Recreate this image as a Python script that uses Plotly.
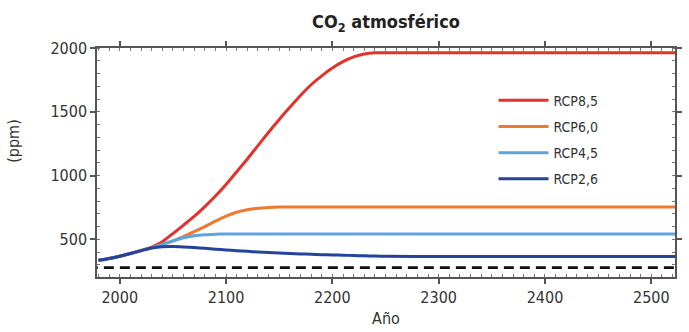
import plotly.graph_objects as go

# ---- data ----
years = [1980, 1990, 2000, 2010, 2020, 2030, 2040, 2050, 2060, 2070, 2080, 2090,
         2100, 2110, 2120, 2130, 2140, 2150, 2160, 2170, 2180, 2190, 2200, 2210,
         2220, 2230, 2240, 2250, 2300, 2400, 2500, 2530]

rcp85 = [336, 350, 368, 389, 413, 440, 482, 545, 612, 680, 757, 840,
         930, 1030, 1130, 1235, 1340, 1440, 1535, 1628, 1712, 1782, 1843, 1893,
         1930, 1953, 1962, 1962, 1962, 1962, 1962, 1962]

rcp60 = [336, 350, 368, 389, 410, 433, 460, 488, 522, 560, 600, 643,
         683, 713, 732, 744, 750, 753, 753, 753, 753, 753, 753, 753,
         753, 753, 753, 753, 753, 753, 753, 753]

rcp45 = [336, 350, 368, 389, 410, 433, 460, 487, 512, 528, 536, 540,
         542, 543, 543, 543, 543, 543, 543, 543, 543, 543, 543, 543,
         543, 543, 543, 543, 543, 543, 543, 543]

rcp26 = [336, 350, 368, 389, 412, 432, 443, 444, 441, 436, 430, 423,
         417, 411, 406, 401, 397, 393, 389, 386, 383, 380, 378, 376,
         373, 371, 369, 368, 365, 365, 365, 365]

preindustrial = 278

series_names = ["RCP8,5", "RCP6,0", "RCP4,5", "RCP2,6"]
series_values = [rcp85, rcp60, rcp45, rcp26]
series_colors = ["#e3322b", "#ee7a30", "#5fa4dc", "#25439a"]

x_ticks = [2000, 2100, 2200, 2300, 2400, 2500]
y_ticks = [500, 1000, 1500, 2000]

FONT = "DejaVu Sans Condensed, Liberation Sans Narrow, DejaVu Sans, sans-serif"
AXIS_COLOR = "#555555"
TEXT_COLOR = "#333333"

fig = go.Figure()

# pre-industrial reference (dashed)
fig.add_trace(go.Scatter(
    x=[years[0] - 10, years[-1]], y=[preindustrial, preindustrial],
    mode="lines", line=dict(color="#111111", width=2.8, dash="10px,6px"),
    showlegend=False, hoverinfo="skip"))

for name, vals, col in zip(series_names, series_values, series_colors):
    fig.add_trace(go.Scatter(
        x=years, y=vals, name=name, mode="lines",
        legendgroup=name,
        line=dict(color=col, width=3, shape="spline", smoothing=0.6)))

fig.update_layout(
    width=689, height=332,
    margin=dict(l=97, r=7, t=48, b=52),
    paper_bgcolor="white", plot_bgcolor="white",
    font=dict(family=FONT, color=TEXT_COLOR, size=16),
    title=dict(
        text="<b>CO<sub>2</sub> atmosférico</b>",
        x=0.5, xref="paper", xanchor="center",
        y=1 - 22 / 332, yref="container", yanchor="middle",
        font=dict(family=FONT, size=18, color="#222222")),
    showlegend=True,
    legend=dict(
        x=0.686, y=0.84, xanchor="left", yanchor="top",
        bgcolor="rgba(0,0,0,0)", borderwidth=0,
        itemwidth=50,
        font=dict(family=FONT, size=14, color=TEXT_COLOR),
        traceorder="grouped", tracegroupgap=5),
    annotations=[dict(
        text="(ppm)", textangle=-90,
        x=(13 - 97) / 585, y=1 - (142 - 48) / 232,
        xref="paper", yref="paper", xanchor="center", yanchor="middle",
        showarrow=False, font=dict(family=FONT, size=16, color=TEXT_COLOR))],
)

fig.update_xaxes(
    range=[1978.6, 2522.3],
    tickvals=x_ticks, ticks="outside", ticklen=5, tickwidth=1.5, tickcolor=AXIS_COLOR,
    showline=True, linecolor=AXIS_COLOR, linewidth=1.5, mirror="allticks",
    showgrid=False, zeroline=False,
    tickfont=dict(family=FONT, size=16, color=TEXT_COLOR),
    minor=dict(dtick=10, tick0=0, ticks="inside", ticklen=3, tickwidth=1, tickcolor="#777777"),
    title=dict(text="Año", standoff=7, font=dict(family=FONT, size=16, color=TEXT_COLOR)),
)

fig.update_yaxes(
    range=[205, 2000],
    tickvals=y_ticks, ticks="outside", ticklen=5, tickwidth=1.5, tickcolor=AXIS_COLOR,
    showline=True, linecolor=AXIS_COLOR, linewidth=1.5, mirror="allticks",
    showgrid=False, zeroline=False,
    tickfont=dict(family=FONT, size=16, color=TEXT_COLOR),
    minor=dict(dtick=100, tick0=0, ticks="inside", ticklen=3, tickwidth=1, tickcolor="#777777"),
)

fig.write_html("out.html")
